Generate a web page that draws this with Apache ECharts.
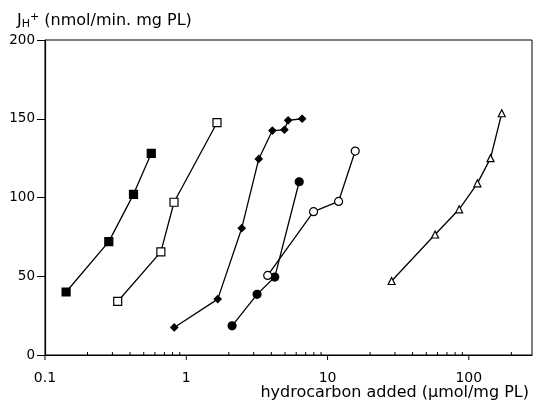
<!DOCTYPE html>
<html>
<head>
<meta charset="utf-8">
<script src="https://cdn.jsdelivr.net/npm/echarts@6/dist/echarts.min.js"></script>
<style>html,body{margin:0;padding:0;background:#fff}#c{width:535px;height:407px}</style>
</head>
<body>
<div id="c"></div>
<script>
// x values (µmol/mg PL) and y values (nmol/min. mg PL)
const filledSquareX = [0.141, 0.283, 0.423, 0.565];
const filledSquareY = [40, 72, 102, 128];
const openSquareX = [0.327, 0.661, 0.819, 1.65];
const openSquareY = [34, 65.5, 97, 147.5];
const diamondX = [0.822, 1.67, 2.47, 3.26, 4.07, 4.95, 5.26, 6.61];
const diamondY = [17.5, 35.5, 80.5, 124.5, 142.5, 143, 149, 150];
const filledCircleX = [2.11, 3.17, 4.23, 6.3];
const filledCircleY = [18.5, 38.5, 49.5, 110];
const openCircleX = [3.77, 7.96, 11.97, 15.7];
const openCircleY = [50.5, 91, 97.5, 129.5];
const triangleX = [28.4, 57.7, 85.4, 115, 142.5, 171];
const triangleY = [47, 76.5, 92.5, 109, 125, 153.5];
const majorTickValues = [0.1, 1, 10, 100];
const minorTickValues = [0.2,0.3,0.4,0.5,0.6,0.7,0.8,0.9,2,3,4,5,6,7,8,9,20,30,40,50,60,70,80,90,200];

const font = 'DejaVu Sans';
function pairs(xs, ys){ return xs.map((x,i)=>[x, ys[i]]); }
function lineSeries(xs, ys, symbol, size, filled){
  return {
    type:'line', data:pairs(xs,ys), symbol:symbol, symbolSize:size,
    showAllSymbol:true, z:3,
    lineStyle:{color:'#000', width:1.3},
    itemStyle:{color: filled ? '#000' : '#fff', borderColor:'#000', borderWidth:1.2},
    emphasis:{disabled:true}, animation:false
  };
}
function tickSeries(vals, len){
  return {
    type:'custom', data: vals.map(v=>[v,0]), silent:true, z:4, animation:false,
    renderItem:function(params, api){
      const p = api.coord([api.value(0), 0]);
      return {type:'line', shape:{x1:p[0], y1:p[1], x2:p[0], y2:p[1]+len}, style:{stroke:'#000', lineWidth:1}};
    }
  };
}
const chart = echarts.init(document.getElementById('c'));
chart.setOption({
  backgroundColor:'#fff',
  animation:false,
  title:[
    {left:12, top:7, text:'J{sub|H}{sup|+} (nmol/min. mg PL)',
     textStyle:{fontFamily:font, fontSize:16, fontWeight:'normal', color:'#000',
       rich:{sub:{fontFamily:font, fontSize:11, color:'#000', verticalAlign:'bottom', padding:[7,0,0,0]},
             sup:{fontFamily:font, fontSize:11, color:'#000', verticalAlign:'top', padding:[0,0,0,0]}}}},
    {right:1, bottom:1, text:'hydrocarbon added (µmol/mg PL)',
     textStyle:{fontFamily:font, fontSize:16, fontWeight:'normal', color:'#000'}}
  ],
  grid:{left:45, right:3, top:40, bottom:52, show:true, borderColor:'#000', borderWidth:1, backgroundColor:'transparent'},
  xAxis:{
    type:'log', logBase:10, min:0.1, max:280,
    axisLine:{lineStyle:{color:'#000', width:1.2}},
    axisTick:{show:false},
    splitLine:{show:false},
    axisLabel:{color:'#000', fontFamily:font, fontSize:14, margin:16, showMaxLabel:false}
  },
  yAxis:{
    type:'value', min:0, max:200, interval:50,
    axisLine:{show:true, lineStyle:{color:'#000', width:1.2}},
    axisTick:{show:true, length:8, lineStyle:{color:'#000'}},
    splitLine:{show:false},
    axisLabel:{color:'#000', fontFamily:font, fontSize:13.5, margin:10}
  },
  series:[
    lineSeries(filledSquareX, filledSquareY, 'rect', 8, true),
    lineSeries(openSquareX, openSquareY, 'rect', 8, false),
    lineSeries(diamondX, diamondY, 'diamond', 7, true),
    lineSeries(filledCircleX, filledCircleY, 'circle', 8, true),
    lineSeries(openCircleX, openCircleY, 'circle', 8, false),
    lineSeries(triangleX, triangleY, 'triangle', 7, false),
    tickSeries(majorTickValues, 5),
    tickSeries(minorTickValues, -3)
  ]
});
</script>
</body>
</html>
